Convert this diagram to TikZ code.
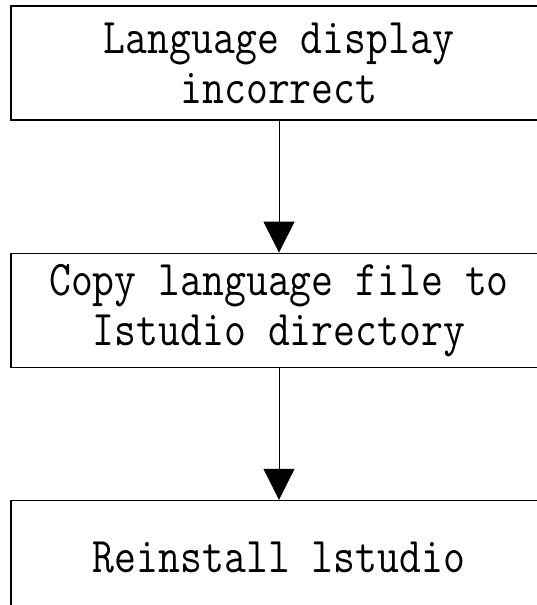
\documentclass[tikz,border=0pt]{standalone}
\usepackage{fontspec}
\usepackage{tikz}
\usetikzlibrary{positioning, arrows.meta}
\setmonofont[FakeStretch=0.85]{Latin Modern Mono}

\begin{document}
\begin{tikzpicture}[
node distance=132pt,
box/.style={rectangle, draw, line width=1.2pt, align=center, minimum width=536pt, minimum height=114pt, inner sep=0pt, font=\ttfamily\fontsize{50}{50}\selectfont},
arrow/.style={-{Triangle[width=31pt,length=31pt]}, line width=1pt}
]
\useasboundingbox (0,0) rectangle (536pt,-605pt);

\node[box] (flow_display) at (279pt,-63pt) {Language display\\incorrect};
\node[box, below=of flow_display] (flow_copy) {Copy language file to\\Istudio directory};
\node[box, below=of flow_copy] (flow_reinstall) {Reinstall lstudio};

\draw[arrow] (flow_display) -- (flow_copy);
\draw[arrow] (flow_copy) -- (flow_reinstall);

\end{tikzpicture}
\end{document}
